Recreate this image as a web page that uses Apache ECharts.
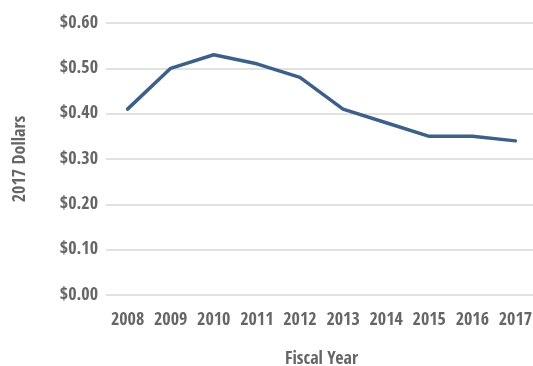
<!DOCTYPE html>
<html>
<head>
<meta charset="utf-8">
<script src="https://cdn.jsdelivr.net/npm/echarts@6/dist/echarts.min.js"></script>
<style>
  html, body { margin: 0; padding: 0; background: #fff; }
  #chart { width: 533px; height: 366px; }
</style>
</head>
<body>
<div id="chart"></div>
<script>
// Cost per unit in constant 2017 dollars, by fiscal year
const years = ['2008', '2009', '2010', '2011', '2012', '2013', '2014', '2015', '2016', '2017'];
const dollars = [0.41, 0.50, 0.53, 0.51, 0.48, 0.41, 0.38, 0.35, 0.35, 0.34];

const FONT = '"Open Sans Condensed", "Roboto Condensed", sans-serif';
const TEXT = '#666666';

const chart = echarts.init(document.getElementById('chart'), null, { renderer: 'canvas' });
chart.setOption({
  animation: false,
  backgroundColor: '#ffffff',
  grid: { left: 106, right: -4, top: 23, bottom: 71, containLabel: false, outerBoundsMode: 'none' },
  xAxis: {
    type: 'category',
    data: years,
    boundaryGap: true,
    name: 'Fiscal Year',
    nameLocation: 'middle',
    nameGap: 55,
    nameTextStyle: { fontFamily: FONT, fontWeight: 'bold', fontSize: 18, color: TEXT },
    axisLine: { show: false },
    axisTick: { show: false },
    axisLabel: { interval: 0, fontFamily: FONT, fontWeight: 'bold', fontSize: 18, color: TEXT, margin: 16 }
  },
  yAxis: {
    type: 'value',
    min: 0,
    max: 0.6,
    interval: 0.1,
    name: '2017 Dollars',
    nameLocation: 'middle',
    nameGap: 77,
    nameRotate: 90,
    nameTextStyle: { fontFamily: FONT, fontWeight: 'bold', fontSize: 18, color: TEXT },
    axisLine: { show: false },
    axisTick: { show: false },
    splitLine: { lineStyle: { color: '#d9d9d9', width: 1.5 } },
    axisLabel: {
      fontFamily: FONT, fontWeight: 'bold', fontSize: 18, color: TEXT, margin: 8,
      formatter: v => '$' + v.toFixed(2)
    }
  },
  series: [{
    type: 'line',
    data: dollars,
    symbol: 'none',
    smooth: false,
    lineStyle: { color: '#3d6089', width: 3.5, cap: 'round', join: 'round' }
  }]
});
</script>
</body>
</html>
